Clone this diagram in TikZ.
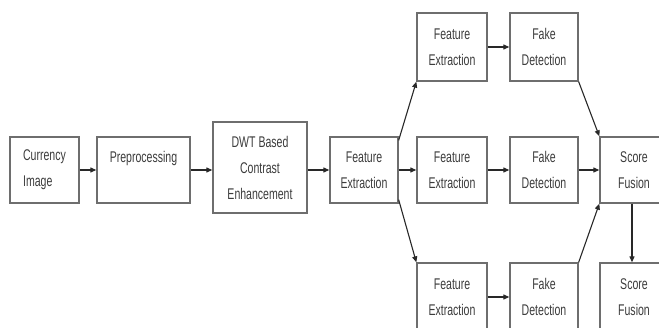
\documentclass[tikz,border=0pt]{standalone}
\usepackage{fontspec}
\setmainfont{Liberation Sans}[FakeStretch=0.68]
\usetikzlibrary{positioning,arrows.meta}
\definecolor{CTXT}{RGB}{60,60,60}
\definecolor{CBOX}{RGB}{110,110,110}
\definecolor{CARR}{RGB}{40,40,40}

\begin{document}
\begin{tikzpicture}[x=1pt,y=-1pt,
  blk/.style={draw=CBOX,line width=1.3pt,fill=white,text=CTXT,align=center,
    font=\fontsize{15.5}{26}\selectfont,minimum width=68pt,minimum height=66pt,inner sep=0pt},
  flow/.style={draw=CARR,line width=1.1pt,-{Triangle[length=6pt,width=5pt]}}]
  \useasboundingbox (0,0) rectangle (659,327);
  % — input chain
  \node[blk,minimum width=69pt,align=left] (cur) at (44.5,170) {Currency\\Image};
  \node[blk,minimum width=93pt] (pre) at (143.5,170) {Preprocessing\\~};
  \node[blk,minimum width=94pt,minimum height=91pt] (dwt) at (260,167.5) {DWT Based\\Contrast\\Enhancement};
  \node[blk] (fe) at (364,170) {Feature\\Extraction};
  % — three branches
  \node[blk,minimum width=70pt,minimum height=68pt] (fe1) at (452,47) {Feature\\Extraction};
  \node[blk,minimum height=68pt] (fake1) at (544,47) {Fake\\Detection};
  \node[blk,minimum width=70pt] (fe2) at (452,170) {Feature\\Extraction};
  \node[blk] (fake2) at (544,170) {Fake\\Detection};
  \node[blk] (sf2) at (634,170) {Score\\Fusion};
  \node[blk,minimum width=70pt,minimum height=68pt] (fe3) at (452,297) {Feature\\Extraction};
  \node[blk,minimum height=68pt] (fake3) at (544,297) {Fake\\Detection};
  \node[blk,minimum height=68pt] (sf3) at (634,297) {Score\\Fusion};
  % — connectors
  \draw[flow] (cur.east) -- (pre.west);
  \draw[flow] (pre.east) -- (pre.east -| dwt.west);
  \draw[flow] (pre.east -| dwt.east) -- (fe.west);
  \draw[flow] (fe.east) -- (fe2.west);
  \draw[flow] (fe2.east) -- (fake2.west);
  \draw[flow] (fake2.east) -- (sf2.west);
  \draw[flow] (fe1.east) -- (fake1.west);
  \draw[flow] (fe3.east) -- (fake3.west);
  \draw[flow] ([yshift=-4pt]fe.north east) -- (fe1.south west);
  \draw[flow] ([yshift=4pt]fe.south east) -- (fe3.north west);
  \draw[flow] (fake1.south east) -- (sf2.north west);
  \draw[flow] (fake3.north east) -- (sf2.south west);
  \draw[flow] ([xshift=-2pt]sf2.south) -- ([xshift=-2pt]sf3.north);
\end{tikzpicture}
\end{document}
